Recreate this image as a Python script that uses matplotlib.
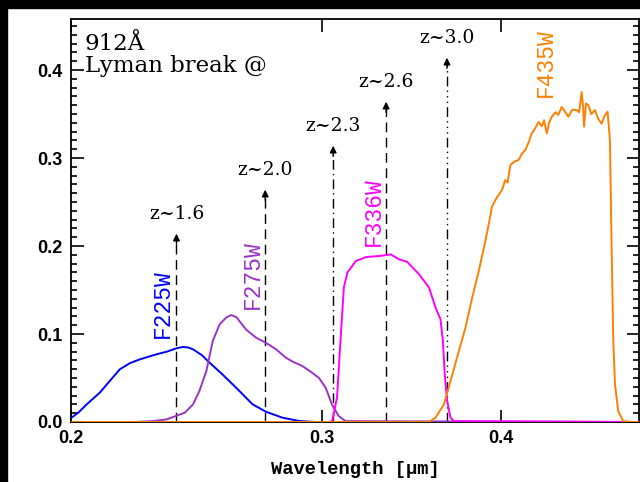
import matplotlib
matplotlib.use("Agg")
import matplotlib.pyplot as plt
from matplotlib.patches import Rectangle

# filter throughput curves (wavelength in micron, throughput)
f225w_wave = [0.2, 0.2025, 0.2051, 0.2095, 0.2130, 0.2164, 0.2200, 0.2235, 0.2295,
              0.2335, 0.2370, 0.2394, 0.2415, 0.2435, 0.2470, 0.2501, 0.2550,
              0.2596, 0.2640, 0.2681, 0.2739, 0.2813, 0.2891, 0.2970, 0.5]
f225w_thru = [0.0045, 0.011, 0.020, 0.0333, 0.047, 0.0599, 0.067, 0.0712, 0.0769,
              0.080, 0.0837, 0.0852, 0.0848, 0.0826, 0.076, 0.0674, 0.055,
              0.0428, 0.031, 0.020, 0.0117, 0.0049, 0.0011, 0.0, 0.0]

f275w_wave = [0.2, 0.2210, 0.2282, 0.2334, 0.2370, 0.2403, 0.2435, 0.2460, 0.2488,
              0.2514, 0.2542, 0.2570, 0.2590, 0.2612, 0.2653, 0.2696, 0.2739,
              0.2784, 0.2829, 0.2860, 0.2905, 0.2951, 0.2984, 0.3016, 0.3047,
              0.3080, 0.3114, 0.5]
f275w_thru = [0.0, 0.0, 0.001, 0.003, 0.007, 0.0106, 0.020, 0.035, 0.058,
              0.092, 0.111, 0.119, 0.1216, 0.119, 0.105, 0.0958, 0.090,
              0.0826, 0.073, 0.0686, 0.0636, 0.056, 0.050, 0.039, 0.020,
              0.0068, 0.001, 0.0]

f336w_wave = [0.2, 0.3030, 0.3048, 0.3072, 0.3089, 0.3106, 0.3124, 0.3167, 0.3220,
              0.3287, 0.3350, 0.3394, 0.3440, 0.3506, 0.3563, 0.3601, 0.3630,
              0.3644, 0.3655, 0.3669, 0.3689, 0.3709, 0.5]
f336w_thru = [0.0, 0.0, 0.001, 0.028, 0.092, 0.153, 0.170, 0.183, 0.1875,
              0.1886, 0.1905, 0.185, 0.182, 0.168, 0.153, 0.130, 0.1167,
              0.092, 0.054, 0.024, 0.005, 0.001, 0.0]

f435w_wave = [0.2, 0.3563, 0.3601, 0.3650, 0.3689, 0.3739, 0.3779, 0.3820, 0.3861,
              0.3903, 0.3925, 0.3944, 0.3975, 0.4008, 0.4030, 0.4045, 0.4063,
              0.4090, 0.4117, 0.4140, 0.4162, 0.4185, 0.4206, 0.4230, 0.4252,
              0.4275, 0.4290, 0.4309, 0.4325, 0.4344, 0.4370, 0.4390, 0.4414,
              0.4440, 0.4462, 0.4490, 0.4522, 0.4540, 0.4558, 0.4568, 0.4576,
              0.4590, 0.4608, 0.4630, 0.4657, 0.4680, 0.4707, 0.4730, 0.4753,
              0.4771, 0.4783, 0.4797, 0.4810, 0.4835, 0.4874, 0.4950, 0.5]
f435w_thru = [0.0, 0.0, 0.005, 0.020, 0.0466, 0.0807, 0.107, 0.141, 0.1716,
              0.2062, 0.226, 0.2447, 0.255, 0.2636, 0.275, 0.272, 0.292,
              0.296, 0.2977, 0.305, 0.309, 0.318, 0.328, 0.334, 0.341,
              0.336, 0.343, 0.328, 0.340, 0.347, 0.352, 0.349, 0.358,
              0.352, 0.347, 0.355, 0.3545, 0.352, 0.375, 0.360, 0.3356,
              0.362, 0.360, 0.350, 0.3545, 0.345, 0.339, 0.348, 0.3526,
              0.320, 0.207, 0.092, 0.043, 0.0125, 0.001, 0.0, 0.0]

filter_names = ["F225W", "F275W", "F336W", "F435W"]
filter_colors = ["#0000ff", "#9933cc", "#ff00ff", "#ff8000"]
label_x = [0.2319, 0.2680, 0.3255, 0.4300]
label_y = [0.135, 0.168, 0.239, 0.408]

# redshifted Lyman break markers
z_labels = ["z~1.6", "z~2.0", "z~2.3", "z~2.6", "z~3.0"]
z_wave = [0.2371, 0.2736, 0.3053, 0.3325, 0.3668]
z_top = [0.214, 0.264, 0.314, 0.364, 0.414]
z_dashes = [(7, 4), (7, 4), (7, 3, 1, 3), (7, 4), (7, 3, 1, 3, 1, 3, 1, 3)]

fig = plt.figure(figsize=(6.4, 4.82), dpi=100)
fig.patches.append(Rectangle((0, 0), 7 / 640, 1, transform=fig.transFigure,
                             color="black", zorder=10))
fig.patches.append(Rectangle((0, 1 - 8 / 482), 1, 8 / 482, transform=fig.transFigure,
                             color="black", zorder=10))
ax = fig.add_axes([71 / 640, 60 / 482, 568 / 640, 403 / 482])

curves = [(f225w_wave, f225w_thru), (f275w_wave, f275w_thru),
          (f336w_wave, f336w_thru), (f435w_wave, f435w_thru)]
for (w, t), name, c, lx, ly in zip(curves, filter_names, filter_colors, label_x, label_y):
    ax.plot(w, t, color=c, lw=1.4, zorder=3)
    ax.text(lx, ly, name, color=c, rotation=90, ha="center", va="center",
            family="Liberation Mono", fontsize=16.5)

for lab, w, top, d in zip(z_labels, z_wave, z_top, z_dashes):
    ax.plot([w, w], [0, top - 0.008], color="black", lw=1.0, dashes=d, zorder=2)
    ax.annotate("", xy=(w, top), xytext=(w, top - 0.012),
                arrowprops=dict(arrowstyle="-|>", color="black", lw=1.0,
                                mutation_scale=10, shrinkA=0, shrinkB=0))
    ax.text(w, top + 0.022, lab, ha="center", va="center",
            family="DejaVu Serif", fontsize=13.5)

ax.text(0.2045, 0.430, "912Å", family="DejaVu Serif", fontsize=16.5,
        ha="left", va="center")
ax.text(0.2045, 0.405, "Lyman break @", family="DejaVu Serif", fontsize=16.5,
        ha="left", va="center")

ax.set_xscale("log")
ax.set_xlim(0.2, 0.5)
ax.set_ylim(0, 0.458)
ax.set_xticks([0.2, 0.3, 0.4])
ax.set_xticklabels(["0.2", "0.3", "0.4"])
ax.xaxis.set_minor_locator(matplotlib.ticker.NullLocator())
ax.set_yticks([0.0, 0.1, 0.2, 0.3, 0.4])
ax.set_yticklabels(["0.0", "0.1", "0.2", "0.3", "0.4"])
ax.yaxis.set_minor_locator(matplotlib.ticker.MultipleLocator(0.01))
ax.tick_params(which="both", direction="in", top=True, right=True, width=1.2)
ax.tick_params(which="major", length=9, labelsize=13, pad=6)
ax.tick_params(which="minor", length=4.5)
for lab in ax.get_xticklabels() + ax.get_yticklabels():
    lab.set_family("Liberation Sans")
    lab.set_fontweight("bold")
for s in ax.spines.values():
    s.set_linewidth(1.3)

ax.set_xlabel("Wavelength [μm]", family="Liberation Mono", fontweight="bold",
              fontsize=13.5, labelpad=10)

fig.savefig("out.png", dpi=100)
